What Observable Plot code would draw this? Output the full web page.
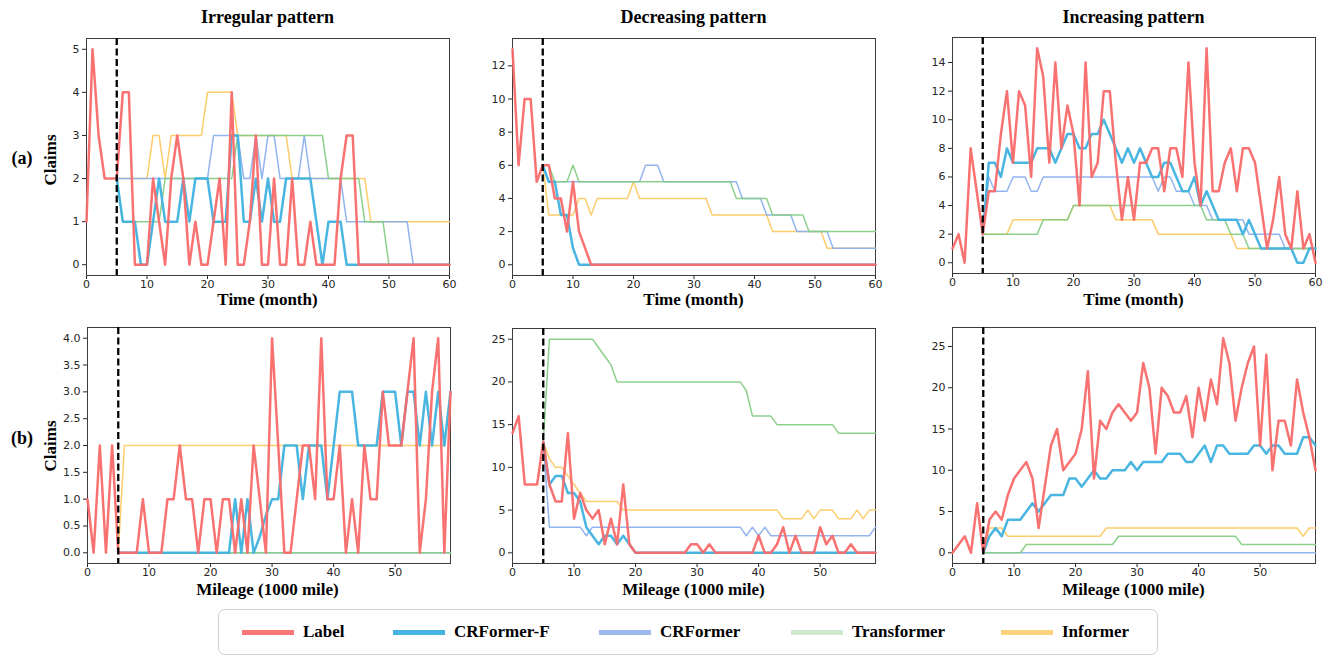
<!DOCTYPE html>
<html><head><meta charset="utf-8">
<script src="https://cdn.jsdelivr.net/npm/d3@7"></script>
<script src="https://cdn.jsdelivr.net/npm/@observablehq/plot@0.6"></script>
<style>
html,body{margin:0;padding:0;background:#fff;}
#root{position:relative;width:1336px;height:657px;overflow:hidden;background:#fff;font-family:"Liberation Serif","Times New Roman",serif;}
.txt{position:absolute;transform:translate(-50%,-50%);white-space:nowrap;font-weight:bold;color:#000;line-height:1;}
.ttl{font-size:18px;}
.axl{font-size:17px;}
.rot{transform:translate(-50%,-50%) rotate(-90deg);}
#legend{position:absolute;left:218px;top:609px;width:940px;height:46px;border:1.5px solid #cfcfcf;border-radius:7px;box-sizing:border-box;}
.item{position:absolute;top:50%;transform:translateY(-50%);display:flex;align-items:center;white-space:nowrap;}
.sw{width:52px;height:5px;margin-right:9px;flex:none;}
.lab{font-weight:bold;font-size:17px;white-space:nowrap;}
</style></head>
<body><div id="root"></div>
<script>
// ---------------- DATA ----------------
const seriesNames = ["Label", "CRFormer-F", "CRFormer", "Transformer", "Informer"];
const panelTitles = ["Irregular pattern", "Decreasing pattern", "Increasing pattern"];
const rowTags = ["(a)", "(b)"];
const xLabels = ["Time (month)", "Mileage (1000 mile)"];
const yLabel = "Claims";
const splitPoint = 5;      // start of prediction
const predStart = 5;       // first index of predicted series

// (a) Time — Irregular
const irrTimeLabel = [1,5,3,2,2,2,4,4,0,0, 0,2,1,0,2,3,2,0,1,0, 0,1,2,0,4,0,0,1,3,0, 0,2,0,0,2,0,0,1,0,0, 0,0,2,3,3,0,0,0,0,0, 0,0,0,0,0,0,0,0,0,0, 0];
const irrTimeCRFF  = [2,1,1,1,0, 0,1,2,1,1, 1,2,1,2,2, 2,1,1,1,3, 3,1,1,2,1, 2,1,1,2,2, 2,2,2,1,0, 1,1,1,0,0, 0,0,0,0,0, 0,0,0,0,0, 0,0,0,0,0, 0];
const irrTimeCRF   = [2,2,2,2,2, 2,2,2,2,2, 2,2,2,2,2, 2,3,3,3,3, 3,2,2,3,2, 3,3,2,2,2, 2,3,2,2,2, 2,2,2,1,1, 1,1,1,1,1, 1,1,1,1,0, 0,0,0,0,0, 0];
const irrTimeTrans = [2,1,1,1,1, 1,1,1,2,2, 2,2,2,2,2, 2,2,2,2,2, 3,3,3,3,3, 3,3,3,3,3, 3,3,3,3,3, 2,2,2,2,2, 2,1,1,1,1, 0,0,0,0,0, 0,0,0,0,0, 0];
const irrTimeInf   = [2,2,2,2,2, 2,3,3,2,3, 3,3,3,3,3, 4,4,4,4,4, 3,3,3,3,3, 3,3,3,3,2, 2,2,2,2,2, 2,2,2,2,2, 2,2,1,1,1, 1,1,1,1,1, 1,1,1,1,1, 1];

// (a) Time — Decreasing
const decTimeLabel = [13,6,10,10,5,6,6,4,4,2, 5,2,1,0,0,0,0,0,0,0, 0,0,0,0,0,0,0,0,0,0, 0,0,0,0,0,0,0,0,0,0, 0,0,0,0,0,0,0,0,0,0, 0,0,0,0,0,0,0,0,0,0, 0];
const decTimeCRFF  = [6,5,5,3,3, 1,0,0,0,0, 0,0,0,0,0, 0,0,0,0,0, 0,0,0,0,0, 0,0,0,0,0, 0,0,0,0,0, 0,0,0,0,0, 0,0,0,0,0, 0,0,0,0,0, 0,0,0,0,0, 0];
const decTimeCRF   = [6,5,5,5,5, 5,5,5,5,5, 5,5,5,5,5, 5,5,6,6,6, 5,5,5,5,5, 5,5,5,5,5, 5,5,5,4,4, 4,4,3,3,3, 3,3,2,2,2, 2,2,2,1,1, 1,1,1,1,1, 1];
const decTimeTrans = [6,6,5,5,5, 6,5,5,5,5, 5,5,5,5,5, 5,5,5,5,5, 5,5,5,5,5, 5,5,5,5,5, 5,5,4,4,4, 4,4,4,3,3, 3,3,3,3,2, 2,2,2,2,2, 2,2,2,2,2, 2];
const decTimeInf   = [6,3,3,3,3, 3,4,4,3,4, 4,4,4,4,4, 5,4,4,4,4, 4,4,4,4,4, 4,4,4,3,3, 3,3,3,3,3, 3,3,3,2,2, 2,2,2,2,2, 2,2,1,1,1, 1,1,1,1,1, 1];

// (a) Time — Increasing
const incTimeLabel = [1,2,0,8,5,2,5,5,9,12, 7,12,11,6,15,13,7,14,8,11, 9,4,14,6,7,12,12,7,3,6, 3,7,7,8,8,5,8,8,6,14, 7,4,15,5,5,7,8,5,8,8, 7,4,1,3,6,2,1,5,1,2, 0];
const incTimeCRFF  = [2,7,7,6,8, 7,7,7,7,8, 8,8,7,8,9, 9,8,8,9,9, 10,9,8,7,8, 7,8,7,6,6, 7,7,6,5,5, 6,4,5,4,3, 3,3,3,2,3, 2,1,1,1,1, 1,1,0,0,1, 1];
const incTimeCRF   = [2,6,5,5,5, 6,6,6,5,5, 6,6,6,6,6, 6,6,6,6,6, 6,6,6,6,6, 6,6,6,6,5, 6,6,5,5,5, 4,4,4,3,3, 3,3,3,3,2, 2,2,2,2,2, 1,1,1,1,1, 1];
const incTimeTrans = [2,2,2,2,2, 2,2,2,2,2, 3,3,3,3,3, 4,4,4,4,4, 4,4,4,4,4, 4,4,4,4,4, 4,4,4,4,4, 4,4,3,3,3, 3,2,2,2,1, 1,1,1,1,1, 1,1,1,1,1, 1];
const incTimeInf   = [2,2,2,2,2, 3,3,3,3,3, 3,3,3,3,3, 4,4,4,4,4, 4,4,3,3,3, 3,3,3,3,2, 2,2,2,2,2, 2,2,2,2,2, 2,2,1,1,1, 1,1,1,1,1, 1,1,1,1,1, 1];

// (b) Mileage — Irregular
const irrMileLabel = [1,0,2,0,2,0,0,0,0,1, 0,0,0,1,1,2,1,1,0,1, 1,0,1,1,0,1,0,2,1,0, 4,2,0,0,1,2,2,1,4,1, 1,2,0,1,0,2,1,1,3,2, 2,2,3,4,0,1,3,4,0,3];
const irrMileCRFF  = [0,0,0,0,0, 0,0,0,0,0, 0,0,0,0,0, 0,0,0,0,1, 0,1,0,0.3,0.7, 1,1,2,2,2, 1,2,2,2,1, 2,3,3,3,2, 2,2,2,3,3, 3,2,3,3,2, 3,2,3,2,3];
const irrMileCRF   = [0,0,0,0,0, 0,0,0,0,0, 0,0,0,0,0, 0,0,0,0,0, 0,0,0,0,0, 0,0,0,0,0, 0,0,0,0,0, 0,0,0,0,0, 0,0,0,0,0, 0,0,0,0,0, 0,0,0,0,0];
const irrMileTrans = [0,0,0,0,0, 0,0,0,0,0, 0,0,0,0,0, 0,0,0,0,0, 0,0,0,0,0, 0,0,0,0,0, 0,0,0,0,0, 0,0,0,0,0, 0,0,0,0,0, 0,0,0,0,0, 0,0,0,0,0];
const irrMileInf   = [0,2,2,2,2, 2,2,2,2,2, 2,2,2,2,2, 2,2,2,2,2, 2,2,2,2,2, 2,2,2,2,2, 2,2,2,2,2, 2,2,2,2,2, 2,2,2,2,2, 2,2,2,2,2, 2,2,2,2,3];

// (b) Mileage — Decreasing
const decMileLabel = [14,16,8,8,8,13,8,6,6,14, 4,7,5,4,5,1,4,1,8,1, 0,0,0,0,0,0,0,0,0,1, 1,0,1,0,0,0,0,0,0,0, 2,0,0,1,3,0,2,0,0,0, 3,1,2,0,0,1,0,0,0,0];
const decMileCRFF  = [13,8,9,9,7, 7,6,3,2,1, 2,2,1,2,1, 0,0,0,0,0, 0,0,0,0,0, 0,0,0,0,0, 0,0,0,0,0, 0,0,0,0,0, 0,0,0,0,0, 0,0,0,0,0, 0,0,0,0,0];
const decMileCRF   = [13,3,3,3,3, 3,3,2,3,3, 3,3,3,3,3, 3,3,3,3,3, 3,3,3,3,3, 3,3,3,3,3, 3,3,3,2,3, 2,3,2,2,2, 2,2,2,2,2, 2,2,2,2,2, 2,2,2,2,3];
const decMileTrans = [13,25,25,25,25, 25,25,25,25,24, 23,22,20,20,20, 20,20,20,20,20, 20,20,20,20,20, 20,20,20,20,20, 20,20,20,19,16, 16,16,16,15,15, 15,15,15,15,15, 15,15,15,14,14, 14,14,14,14,14];
const decMileInf   = [13,11,10,10,9, 8,7,6,6,6, 6,6,6,5,5, 5,5,5,5,5, 5,5,5,5,5, 5,5,5,5,5, 5,5,5,5,5, 5,5,5,5,4, 4,4,4,5,4, 5,5,5,4,4, 4,5,4,5,5];

// (b) Mileage — Increasing
const incMileLabel = [0,1,2,0,6,0,4,5,4,7, 9,10,11,9,3,8,13,15,10,11, 12,15,22,9,16,15,17,18,17,16, 17,23,20,12,20,19,17,17,19,14, 20,16,21,18,26,23,16,20,23,25, 13,24,10,16,16,13,21,17,14,10];
const incMileCRFF  = [0,2,3,2,4, 4,4,5,6,5, 6,7,7,7,9, 9,8,9,10,9, 9,10,10,10,11, 10,11,11,11,11, 12,12,12,11,11, 12,13,11,13,13, 12,12,12,12,13, 13,12,13,13,12, 12,12,14,14,13];
const incMileCRF   = [0,0,0,0,0, 0,0,0,0,0, 0,0,0,0,0, 0,0,0,0,0, 0,0,0,0,0, 0,0,0,0,0, 0,0,0,0,0, 0,0,0,0,0, 0,0,0,0,0, 0,0,0,0,0, 0,0,0,0,0];
const incMileTrans = [0,0,0,0,0, 0,0,1,1,1, 1,1,1,1,1, 1,1,1,1,1, 1,1,2,2,2, 2,2,2,2,2, 2,2,2,2,2, 2,2,2,2,2, 2,2,1,1,1, 1,1,1,1,1, 1,1,1,1,1];
const incMileInf   = [0,3,3,3,2, 2,2,2,2,2, 2,2,2,2,2, 2,2,2,2,2, 3,3,3,3,3, 3,3,3,3,3, 3,3,3,3,3, 3,3,3,3,3, 3,3,3,3,3, 3,3,3,3,3, 3,3,2,3,3];

// tick values
const timeTicks = [0,10,20,30,40,50,60];
const mileTicks = [0,10,20,30,40,50];
const yTicksA1 = [0,1,2,3,4,5];
const yTicksA2 = [0,2,4,6,8,10,12];
const yTicksA3 = [0,2,4,6,8,10,12,14];
const yTicksB1 = [0,0.5,1,1.5,2,2.5,3,3.5,4];
const yTicksB2 = [0,5,10,15,20,25];
const yTicksB3 = [0,5,10,15,20,25];

// ---------------- STYLE ----------------
const lineColor = {"Label":"#f96a6a","CRFormer-F":"#3fb2df","CRFormer":"#8cb0ee","Transformer":"#86cd86","Informer":"#fdc964"};
const legendColor = {"Label":"#f87676","CRFormer-F":"#46b4e0","CRFormer":"#9db9ee","Transformer":"#cfe8cf","Informer":"#fdd27c"};
const lineWidth = {"Label":2.5,"CRFormer-F":2.5,"CRFormer":1.5,"Transformer":1.5,"Informer":1.5};
const drawOrder = ["Informer","CRFormer","Transformer","CRFormer-F","Label"];

const root = document.getElementById("root");

function makePanel(cfg) {
  const ML = 40, MR = 8, MT = 8, MB = 24;
  const [l, t, r, b] = cfg.frame;
  const rows = [];
  cfg.series.forEach(([name, vals, start]) => vals.forEach((v, i) => rows.push({name, x: start + i, y: v})));
  const marks = [Plot.frame({stroke: "#3c3c3c", strokeWidth: 1})];
  for (const name of drawOrder) {
    marks.push(Plot.line(rows.filter(d => d.name === name), {
      x: "x", y: "y", stroke: lineColor[name], strokeWidth: lineWidth[name], strokeOpacity: 0.95
    }));
  }
  marks.push(Plot.ruleX([splitPoint], {stroke: "#000", strokeWidth: 2.3, strokeDasharray: "7,3.5"}));
  const svg = Plot.plot({
    width: r - l + ML + MR, height: b - t + MT + MB,
    marginLeft: ML, marginRight: MR, marginTop: MT, marginBottom: MB,
    x: {domain: cfg.xDomain, ticks: cfg.xTicks, tickSize: 4, tickPadding: 1, label: null},
    y: {domain: cfg.yDomain, ticks: cfg.yTicks, tickSize: 4, tickPadding: 3, label: null, tickFormat: cfg.yFormat},
    style: {fontFamily: "'DejaVu Sans', sans-serif", fontSize: "11px", color: "#262626", background: "transparent", overflow: "visible"},
    marks
  });
  svg.style.position = "absolute";
  svg.style.left = (l - ML) + "px";
  svg.style.top = (t - MT) + "px";
  root.append(svg);
}

function S(lbl, crff, crf, trans, inf) {
  return [["Label", lbl, 0], ["CRFormer-F", crff, predStart], ["CRFormer", crf, predStart],
          ["Transformer", trans, predStart], ["Informer", inf, predStart]];
}
const intFmt = d3.format("d");
const decFmt = d3.format(".1f");

makePanel({frame:[86,38,449,275], xDomain:[0,60], xTicks:timeTicks, yDomain:[-0.25,5.25], yTicks:yTicksA1, yFormat:intFmt,
  series:S(irrTimeLabel, irrTimeCRFF, irrTimeCRF, irrTimeTrans, irrTimeInf)});
makePanel({frame:[512,38,875,275], xDomain:[0,60], xTicks:timeTicks, yDomain:[-0.65,13.65], yTicks:yTicksA2, yFormat:intFmt,
  series:S(decTimeLabel, decTimeCRFF, decTimeCRF, decTimeTrans, decTimeInf)});
makePanel({frame:[952,37,1315,273], xDomain:[0,60], xTicks:timeTicks, yDomain:[-0.75,15.75], yTicks:yTicksA3, yFormat:intFmt,
  series:S(incTimeLabel, incTimeCRFF, incTimeCRF, incTimeTrans, incTimeInf)});
makePanel({frame:[87,327,450,563], xDomain:[0,59], xTicks:mileTicks, yDomain:[-0.2,4.2], yTicks:yTicksB1, yFormat:decFmt,
  series:S(irrMileLabel, irrMileCRFF, irrMileCRF, irrMileTrans, irrMileInf)});
makePanel({frame:[512,328,875,563], xDomain:[0,59], xTicks:mileTicks, yDomain:[-1.25,26.25], yTicks:yTicksB2, yFormat:intFmt,
  series:S(decMileLabel, decMileCRFF, decMileCRF, decMileTrans, decMileInf)});
makePanel({frame:[952,327,1315,563], xDomain:[0,59], xTicks:mileTicks, yDomain:[-1.3,27.3], yTicks:yTicksB3, yFormat:intFmt,
  series:S(incMileLabel, incMileCRFF, incMileCRF, incMileTrans, incMileInf)});

// ---------------- TEXT ----------------
function addText(text, x, y, cls) {
  const d = document.createElement("div");
  d.className = "txt " + cls;
  d.style.left = x + "px"; d.style.top = y + "px";
  d.textContent = text;
  root.append(d);
}
const colCenters = [267.5, 693.5, 1133.5];
panelTitles.forEach((t, i) => addText(t, colCenters[i], 17, "ttl"));
colCenters.forEach(cx => addText(xLabels[0], cx, 299, "axl"));
colCenters.forEach(cx => addText(xLabels[1], cx, 589, "axl"));
addText(rowTags[0], 22, 158, "ttl");
addText(rowTags[1], 22, 438, "ttl");
addText(yLabel, 50, 160, "axl rot");
addText(yLabel, 50, 446, "axl rot");

// ---------------- LEGEND ----------------
const legendOffsets = [23, 174, 380, 572, 782];
const leg = document.createElement("div");
leg.id = "legend";
seriesNames.forEach((name, i) => {
  const it = document.createElement("div"); it.className = "item";
  it.style.left = legendOffsets[i] + "px";
  const sw = document.createElement("div"); sw.className = "sw"; sw.style.background = legendColor[name];
  const lb = document.createElement("div"); lb.className = "lab"; lb.textContent = name;
  it.append(sw, lb); leg.append(it);
});
root.append(leg);
</script>
</body></html>
